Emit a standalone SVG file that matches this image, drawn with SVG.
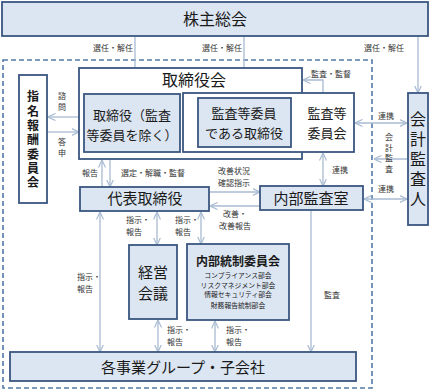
<svg xmlns="http://www.w3.org/2000/svg" width="430" height="391" viewBox="0 0 430 391">
<style>
text{font-family:"Noto Sans CJK JP","Noto Sans CJK SC",sans-serif;fill:#1a1a1a}
.box{fill:#dce6f2;stroke:#3a5680;stroke-width:1.8}
.wbox{fill:#fff;stroke:#3a5680;stroke-width:1.8}
.ln{stroke:#a9bbd2;stroke-width:1.3;fill:none}
.lb{font-size:8px;fill:#333}
.t16{font-size:16px;text-anchor:middle}
.t15{font-size:15px;text-anchor:middle}
.t13{font-size:13px;text-anchor:middle}
.c{text-anchor:middle}
.vt{writing-mode:vertical-rl;text-anchor:middle}
</style>
<defs>
<marker id="ar" viewBox="0 0 8 8" refX="7.5" refY="4" markerWidth="8" markerHeight="8" markerUnits="userSpaceOnUse" orient="auto-start-reverse">
<path d="M0,0.5 L7.5,4 L0,7.5" fill="none" stroke="#a9bbd2" stroke-width="1.2"/>
</marker>
</defs>
<rect x="0" y="0" width="430" height="391" fill="#fff"/>
<rect x="3" y="60" width="369" height="328" fill="none" stroke="#5479a8" stroke-width="1.6" stroke-dasharray="5,3"/>

<g id="connectors">
<line class="ln" x1="135" y1="36" x2="135" y2="94" marker-end="url(#ar)"/>
<line class="ln" x1="244" y1="36" x2="244" y2="93" marker-end="url(#ar)"/>
<line class="ln" x1="418" y1="36" x2="418" y2="93" marker-end="url(#ar)"/>
<polyline class="ln" points="323,93 323,80 303,80" marker-end="url(#ar)"/>
<line class="ln" x1="79" y1="117" x2="48" y2="117" marker-end="url(#ar)"/>
<line class="ln" x1="48" y1="132" x2="79" y2="132" marker-end="url(#ar)"/>
<line class="ln" x1="102" y1="187" x2="102" y2="160" marker-end="url(#ar)"/>
<line class="ln" x1="110" y1="160" x2="110" y2="187" marker-end="url(#ar)"/>
<line class="ln" x1="210" y1="192" x2="260" y2="192" marker-end="url(#ar)"/>
<line class="ln" x1="260" y1="206" x2="210" y2="206" marker-end="url(#ar)"/>
<line class="ln" x1="355" y1="123" x2="407" y2="123" marker-start="url(#ar)" marker-end="url(#ar)"/>
<line class="ln" x1="407" y1="159" x2="374" y2="159" marker-end="url(#ar)"/>
<line class="ln" x1="323" y1="153" x2="323" y2="186" marker-start="url(#ar)" marker-end="url(#ar)"/>
<line class="ln" x1="364" y1="199" x2="407" y2="199" marker-start="url(#ar)" marker-end="url(#ar)"/>
<line class="ln" x1="157" y1="212" x2="157" y2="245" marker-start="url(#ar)" marker-end="url(#ar)"/>
<line class="ln" x1="201" y1="212" x2="201" y2="244" marker-start="url(#ar)" marker-end="url(#ar)"/>
<line class="ln" x1="100" y1="212" x2="100" y2="352" marker-start="url(#ar)" marker-end="url(#ar)"/>
<line class="ln" x1="158" y1="320" x2="158" y2="352" marker-start="url(#ar)" marker-end="url(#ar)"/>
<line class="ln" x1="215" y1="321" x2="215" y2="352" marker-start="url(#ar)" marker-end="url(#ar)"/>
<line class="ln" x1="311" y1="211" x2="311" y2="352" marker-end="url(#ar)"/>
</g>

<g id="labels">
<text class="lb" x="133" y="51" text-anchor="end">選任・解任</text>
<text class="lb" x="242" y="51" text-anchor="end">選任・解任</text>
<text class="lb" x="404" y="51" text-anchor="end">選任・解任</text>
<text class="lb c" x="331" y="77">監査・監督</text>
<text class="lb vt" x="62" y="102.5" letter-spacing="3">諮問</text>
<text class="lb vt" x="62" y="149" letter-spacing="3">答申</text>
<text class="lb c" x="90" y="176">報告</text>
<text class="lb c" x="153" y="176">選定・解職・監督</text>
<text class="lb c" x="234" y="174">改善状況</text>
<text class="lb c" x="234" y="186">確認指示</text>
<text class="lb c" x="235" y="217">改善・</text>
<text class="lb c" x="235" y="229">改善報告</text>
<text class="lb c" x="386" y="119">連携</text>
<text class="lb vt" x="389" y="154" letter-spacing="2.5">会計監査</text>
<text class="lb c" x="340" y="173">連携</text>
<text class="lb c" x="386" y="192">連携</text>
<text class="lb" x="126" y="223">指示・</text>
<text class="lb" x="126" y="235">報告</text>
<text class="lb" x="175" y="223">指示・</text>
<text class="lb" x="175" y="235">報告</text>
<text class="lb" x="77" y="280">指示・</text>
<text class="lb" x="77" y="292">報告</text>
<text class="lb" x="167" y="333">指示・</text>
<text class="lb" x="167" y="345">報告</text>
<text class="lb" x="226" y="333">指示・</text>
<text class="lb" x="226" y="345">報告</text>
<text class="lb c" x="332" y="298">監査</text>
</g>

<g id="shareholders">
<rect class="box" x="2" y="2" width="426" height="34"/>
<text class="t16" x="215" y="25">株主総会</text>
</g>

<g id="board">
<rect class="wbox" x="79" y="68" width="223" height="91"/>
<text class="t16" x="194" y="86">取締役会</text>
</g>

<g id="directors">
<rect class="box" x="84" y="94" width="96" height="58"/>
<text class="t13" x="132" y="120">取締役（監査</text>
<text class="t13" x="132" y="140">等委員を除く）</text>
</g>

<g id="audit-committee">
<rect class="wbox" x="183" y="93" width="171" height="59"/>
<text class="t13" x="327" y="118">監査等</text>
<text class="t13" x="327" y="138">委員会</text>
</g>

<g id="audit-directors">
<rect class="box" x="198" y="98" width="93" height="49"/>
<text class="t13" x="244" y="118">監査等委員</text>
<text class="t13" x="244" y="138">である取締役</text>
</g>

<g id="nomination">
<rect class="wbox" x="19" y="75" width="28" height="128"/>
<text class="vt" x="33" y="141" font-size="12" font-weight="bold" letter-spacing="2.3">指名報酬委員会</text>
</g>

<g id="auditor">
<rect class="box" x="408" y="93" width="20" height="132"/>
<text class="vt" x="418" y="161" font-size="16" letter-spacing="4">会計監査人</text>
</g>

<g id="representative">
<rect class="box" x="80" y="187" width="129" height="24"/>
<text class="t15" x="145" y="204">代表取締役</text>
</g>

<g id="internal-audit">
<rect class="box" x="260" y="186" width="103" height="24"/>
<text class="t15" x="311" y="204">内部監査室</text>
</g>

<g id="management">
<rect class="box" x="129" y="245" width="48" height="74"/>
<text class="t15" x="153" y="278">経営</text>
<text class="t15" x="153" y="299">会議</text>
</g>

<g id="internal-control">
<rect class="box" x="187" y="244" width="102" height="76"/>
<text x="238" y="266" font-size="12" font-weight="bold" text-anchor="middle">内部統制委員会</text>
<text x="238" y="278" font-size="6.8" text-anchor="middle">コンプライアンス部会</text>
<text x="238" y="287.5" font-size="6.8" text-anchor="middle">リスクマネジメント部会</text>
<text x="238" y="297" font-size="6.8" text-anchor="middle">情報セキュリティ部会</text>
<text x="238" y="307.5" font-size="6.8" text-anchor="middle">財務報告統制部会</text>
</g>

<g id="groups">
<rect class="box" x="10" y="352" width="346" height="29"/>
<text class="t15" x="183" y="373">各事業グループ・子会社</text>
</g>
</svg>
